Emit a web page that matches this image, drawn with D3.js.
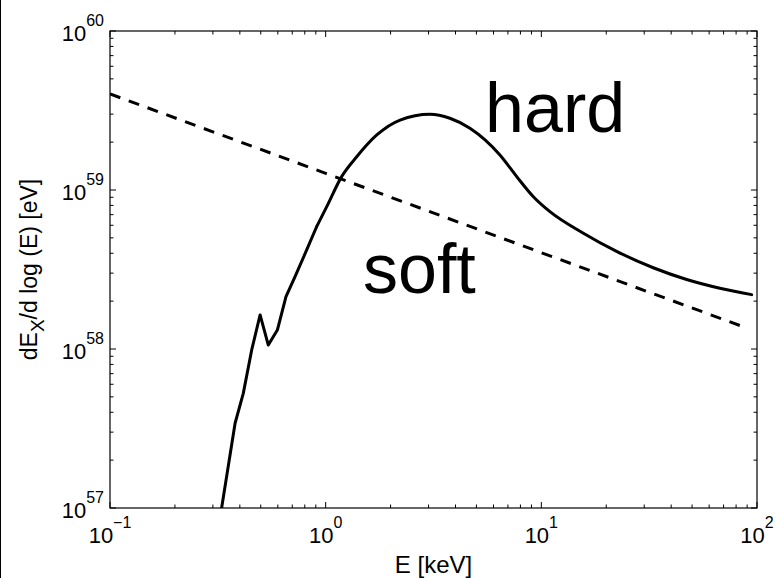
<!DOCTYPE html>
<meta charset="utf-8"/>
<html>
  <head>
    <script src="https://d3js.org/d3.v7.min.js"></script>
    <style>
      body { margin: 0; background: white; }
      text { font-family: 'Liberation Sans', Arial, sans-serif; fill: black; }
    </style>
  </head>
  <body>
<script type="text/javascript">
// values, as log10 of E [keV] and log10 of dE/dlogE [eV]
var hardLogE = [-0.50, -0.420, -0.382, -0.343, -0.304, -0.266, -0.224, -0.184, -0.142, -0.088,
                -0.042, 0.005, 0.074, 0.144, 0.237, 0.345, 0.484, 0.576, 0.669, 0.808,
                0.886, 0.963, 1.040, 1.195, 1.349, 1.519, 1.674, 1.828, 1.975];
var hardLogY = [56.85, 57.533, 57.721, 57.994, 58.214, 58.025, 58.119, 58.329, 58.455, 58.623,
                58.769, 58.895, 59.084, 59.209, 59.346, 59.440, 59.476, 59.451, 59.388, 59.220,
                59.084, 58.958, 58.864, 58.728, 58.614, 58.511, 58.437, 58.382, 58.342];
var softLogE = [-1, 0, 1, 1.952];
var softLogY = [59.604, 59.105, 58.606, 58.132];

var xDecades = [-1, 0, 1, 2];
var yDecades = [57, 58, 59, 60];
var xTitle = 'E [keV]';
var labels = [{text: 'hard', logE: 0.739, logY: 59.367}, {text: 'soft', logE: 0.173, logY: 58.352}];

var W = 777, H = 578;
var margin = {top: 31, right: 20, bottom: 70, left: 110};
var width = 757 - margin.left;
var height = 508 - margin.top;

var svg = d3.select('body').append('svg')
    .attr('width', W)
    .attr('height', H);

// stray frame edge on the left of the figure
svg.append('line')
    .attr('x1', 0.5).attr('x2', 0.5)
    .attr('y1', 0).attr('y2', H)
    .attr('stroke', 'black').attr('stroke-width', 1);

var x = d3.scaleLog().domain([0.1, 100]).range([0, width]);
var y = d3.scaleLog().domain([1e57, 1e60]).range([height, 0]);

var g = svg.append('g').attr('transform', 'translate(' + margin.left + ',' + margin.top + ')');

g.append('clipPath').attr('id', 'clip')
  .append('rect').attr('width', width).attr('height', height);

function pts(le, ly) {
  return le.map(function(d, i) { return [Math.pow(10, d), Math.pow(10, ly[i])]; });
}

var line = d3.line()
    .x(function(d) { return x(d[0]); })
    .y(function(d) { return y(d[1]); });
var smooth = d3.line()
    .x(function(d) { return x(d[0]); })
    .y(function(d) { return y(d[1]); })
    .curve(d3.curveMonotoneX);

g.append('path')
    .attr('d', line(pts(softLogE, softLogY)))
    .attr('clip-path', 'url(#clip)')
    .attr('fill', 'none')
    .attr('stroke', 'black')
    .attr('stroke-width', 3)
    .attr('stroke-dasharray', '11,9');

// jagged low-energy part straight, the broad hump smoothed
var hard = pts(hardLogE, hardLogY);
var cut = 10;
[line(hard.slice(0, cut + 1)), smooth(hard.slice(cut))].forEach(function(dd) {
  g.append('path')
      .attr('d', dd)
      .attr('clip-path', 'url(#clip)')
      .attr('fill', 'none')
      .attr('stroke', 'black')
      .attr('stroke-width', 3)
      .attr('stroke-linejoin', 'round')
      .attr('stroke-linecap', 'round');
});

// ticks inside the box on all four sides
var xTicks = x.ticks();
var yTicks = y.ticks();
function isMajor(v) { return Math.abs(Math.log10(v) - Math.round(Math.log10(v))) < 1e-6; }

[0, height].forEach(function(yy, k) {
  g.append('g').selectAll('line').data(xTicks).enter().append('line')
      .attr('x1', function(d) { return x(d); })
      .attr('x2', function(d) { return x(d); })
      .attr('y1', yy)
      .attr('y2', function(d) { var l = isMajor(d) ? 6 : 3.5; return k ? yy - l : yy + l; })
      .attr('stroke', 'black').attr('stroke-width', 1);
});
[0, width].forEach(function(xx, k) {
  g.append('g').selectAll('line').data(yTicks).enter().append('line')
      .attr('y1', function(d) { return y(d); })
      .attr('y2', function(d) { return y(d); })
      .attr('x1', xx)
      .attr('x2', function(d) { var l = isMajor(d) ? 6 : 3.5; return k ? xx - l : xx + l; })
      .attr('stroke', 'black').attr('stroke-width', 1);
});

g.append('rect')
    .attr('width', width).attr('height', height)
    .attr('fill', 'none').attr('stroke', 'black').attr('stroke-width', 1.2);

// tick labels 10^n
var xl = g.append('g').selectAll('text').data(xDecades).enter().append('text')
    .attr('x', function(d) { return x(Math.pow(10, d)); })
    .attr('y', height + 35)
    .attr('text-anchor', 'middle')
    .style('font-size', '22px');
xl.append('tspan').text('10');
xl.append('tspan').attr('dy', -15).style('font-size', '16px')
    .text(function(d) { return d < 0 ? '\u2212' + (-d) : d; });

var yl = g.append('g').selectAll('text').data(yDecades).enter().append('text')
    .attr('x', -6)
    .attr('y', function(d) { return y(Math.pow(10, d)) + 10; })
    .attr('text-anchor', 'end')
    .style('font-size', '22px');
yl.append('tspan').text('10');
yl.append('tspan').attr('dy', -15).style('font-size', '16px').text(function(d) { return d; });

// axis titles
g.append('text')
    .attr('x', width / 2)
    .attr('y', height + 65)
    .attr('text-anchor', 'middle')
    .style('font-size', '24px')
    .text(xTitle);

var yt = svg.append('text')
    .attr('transform', 'translate(37,' + (margin.top + height / 2) + ') rotate(-90)')
    .attr('text-anchor', 'middle')
    .style('font-size', '23px');
yt.append('tspan').text('dE');
yt.append('tspan').attr('dy', 7).style('font-size', '19px').text('X');
yt.append('tspan').attr('dy', -7).text('/d log (E) [eV]');

// big labels
g.selectAll('.big').data(labels).enter().append('text')
    .attr('class', 'big')
    .attr('x', function(d) { return x(Math.pow(10, d.logE)); })
    .attr('y', function(d) { return y(Math.pow(10, d.logY)); })
    .style('font-size', '70px')
    .text(function(d) { return d.text; });
</script>
  </body>
</html>
